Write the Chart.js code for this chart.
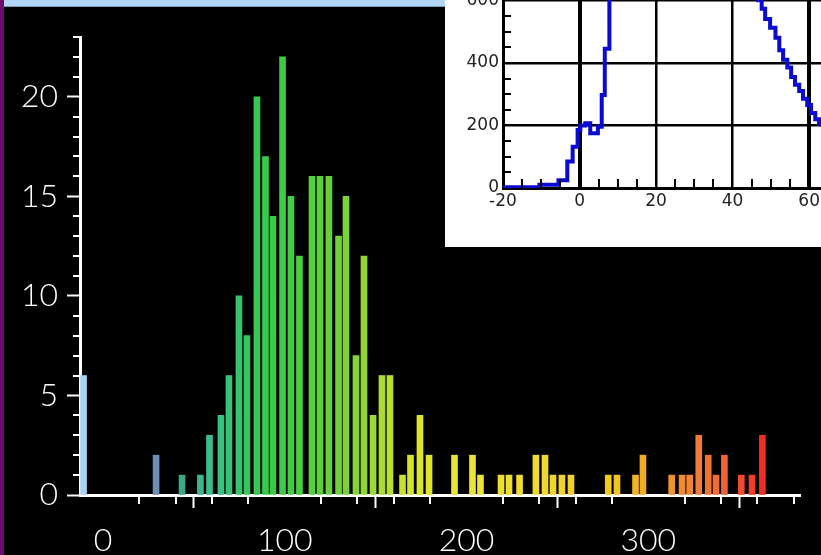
<!DOCTYPE html>
<html>
<head>
<meta charset="utf-8">
<script src="https://cdn.jsdelivr.net/npm/chart.js@4"></script>
<style>
  html, body { margin: 0; padding: 0; background: #000; }
  body { width: 821px; height: 555px; position: relative; overflow: hidden; }
  #main { position: absolute; left: 0; top: 0; }
  #topStrip { position: absolute; left: 4px; top: 0; width: 817px; height: 6px; background: #b2d6f6; border-bottom: 1px solid #7c98b4; }
  #leftStrip { position: absolute; left: 0; top: 0; width: 4px; height: 555px; background: #6c0c6c; }
  #insetBox { position: absolute; left: 445px; top: 0; width: 376px; height: 247px; background: #fff; overflow: hidden; }
  #inset { position: absolute; left: 0; top: -31px; }
</style>
</head>
<body>
<canvas id="main" width="821" height="555"></canvas>
<div id="topStrip"></div>
<div id="leftStrip"></div>
<div id="insetBox"><canvas id="inset" width="376" height="278"></canvas></div>
<script>
// histogram: bin centre and count
const binCenters = [-10.7, 29.2, 43.5, 53.6, 58.6, 64.9, 69.3, 74.8, 79.2, 84.7,
  89.4, 93.5, 98.8, 103.4, 108.1, 115.0, 119.4, 124.3, 129.6, 133.7,
  139.2, 143.6, 148.6, 153.5, 157.9, 164.8, 169.2, 174.4, 179.4, 193.4,
  203.3, 207.7, 219.0, 223.4, 229.2, 238.2, 243.2, 247.6, 252.5, 257.5,
  278.0, 282.8, 293.0, 297.1, 312.9, 318.6, 322.8, 327.8, 333.0, 337.3,
  341.9, 351.2, 357.1, 362.8];
const binCounts = [6, 2, 1, 1, 3, 4, 6, 10, 8, 20,
  17, 14, 22, 15, 12, 16, 16, 16, 13, 15,
  7, 12, 4, 6, 6, 1, 2, 4, 2, 2,
  2, 1, 1, 1, 1, 2, 2, 1, 1, 1,
  1, 1, 1, 2, 1, 1, 1, 3, 2, 1,
  2, 1, 1, 3];
const mainXTicks = [0, 100, 200, 300];
const mainYTicks = [0, 5, 10, 15, 20];

// inset: stepped curve (each value holds until the next x)
const insetX = [-20, -10.5, -5.5, -3.2, -1.8, -0.5, 0.2, 1.5, 2.8, 4.8,
  5.8, 6.6, 7.8, 20, 35, 46.7, 47.6, 48.5, 49.8, 51.2,
  52.2, 53.2, 54.3, 55.3, 56.3, 57.4, 58.4, 59.5, 60.5, 61.6,
  62.6, 63.5];
const insetY = [2, 10, 25, 85, 132, 185, 200, 207, 175, 196,
  297, 445, 760, 900, 850, 600, 573, 540, 512, 480,
  440, 410, 385, 355, 330, 310, 285, 265, 240, 220,
  205, 195];
const insetXTicks = [-20, 0, 20, 40, 60];
const insetYTicks = [0, 200, 400, 600];

// colour ramp along x
const colorStops = [[-11, [168, 212, 244]], [29, [111, 143, 180]], [44, [58, 168, 136]],
  [60, [60, 192, 140]], [75, [52, 196, 108]], [85, [56, 200, 80]], [100, [60, 204, 68]],
  [120, [92, 208, 60]], [140, [136, 212, 56]], [155, [176, 220, 48]], [170, [216, 228, 40]],
  [200, [236, 228, 56]], [240, [240, 216, 48]], [280, [240, 200, 32]], [300, [240, 168, 40]],
  [320, [240, 136, 48]], [340, [240, 104, 56]], [365, [240, 40, 32]]];
function colorAt(x) {
  for (let i = 0; i < colorStops.length - 1; i++) {
    const [x0, c0] = colorStops[i], [x1, c1] = colorStops[i + 1];
    if (x <= x1) {
      const t = Math.max(0, (x - x0) / (x1 - x0));
      return 'rgb(' + c0.map((c, k) => Math.round(c + (c1[k] - c) * t)).join(',') + ')';
    }
  }
  const c = colorStops[colorStops.length - 1][1];
  return 'rgb(' + c.join(',') + ')';
}

function noPad(s) {
  s.paddingTop = 0; s.paddingBottom = 0; s.paddingLeft = 0; s.paddingRight = 0;
}

const mainMinor = {
  id: 'mainMinor',
  afterDraw(chart) {
    const { ctx, scales: { x, y }, chartArea: a } = chart;
    ctx.save();
    ctx.strokeStyle = '#fff';
    ctx.lineWidth = 2;
    for (let v = 1; v <= 23; v++) {
      if (v % 5 === 0) continue;
      const p = Math.round(y.getPixelForValue(v));
      ctx.beginPath(); ctx.moveTo(a.left - 7, p); ctx.lineTo(a.left, p); ctx.stroke();
    }
    for (let v = 20; v <= 380; v += 20) {
      if (v % 100 === 0) continue;
      const p = Math.round(x.getPixelForValue(v));
      ctx.beginPath(); ctx.moveTo(p, a.bottom); ctx.lineTo(p, a.bottom + 9); ctx.stroke();
    }
    ctx.restore();
  }
};

const insetMinor = {
  id: 'insetMinor',
  afterDatasetsDraw(chart) {
    const { ctx, scales: { x, y }, chartArea: a } = chart;
    ctx.save();
    ctx.strokeStyle = '#000';
    ctx.lineWidth = 2;
    for (let v = 50; v <= 650; v += 50) {
      if (v % 200 === 0) continue;
      const p = Math.round(y.getPixelForValue(v));
      ctx.beginPath(); ctx.moveTo(a.left, p); ctx.lineTo(a.left + 8, p); ctx.stroke();
    }
    for (let v = -15; v <= 60; v += 5) {
      if (v % 20 === 0) continue;
      const p = Math.round(x.getPixelForValue(v));
      ctx.beginPath(); ctx.moveTo(p, a.bottom); ctx.lineTo(p, a.bottom - 9); ctx.stroke();
    }
    ctx.restore();
  }
};

const labelFont = { family: 'Lato', size: 32, weight: 300 };

new Chart(document.getElementById('main'), {
  type: 'bar',
  data: {
    datasets: [{
      data: binCenters.map((x, i) => ({ x: x, y: binCounts[i] })),
      backgroundColor: binCenters.map(colorAt),
      barThickness: 6,
      borderWidth: 0
    }]
  },
  options: {
    responsive: false,
    animation: false,
    devicePixelRatio: 1,
    layout: { padding: { top: 37, right: 21, left: 0, bottom: 0 } },
    plugins: { legend: { display: false }, tooltip: { enabled: false } },
    scales: {
      x: {
        type: 'linear', min: -12.65, max: 383.5, offset: false,
        afterBuildTicks: s => { s.ticks = mainXTicks.map(v => ({ value: v })); },
        afterFit: s => { s.height = 60; },
        grid: { drawOnChartArea: false, tickLength: 13, tickColor: '#fff', tickWidth: 2 },
        border: { color: '#fff', width: 3 },
        ticks: { color: '#fff', font: labelFont, padding: 13, maxRotation: 0 }
      },
      y: {
        min: 0, max: 23,
        afterBuildTicks: s => { s.ticks = mainYTicks.map(v => ({ value: v })); },
        afterFit: s => { s.width = 80; },
        grid: { drawOnChartArea: false, tickLength: 13, tickColor: '#fff', tickWidth: 2 },
        border: { color: '#fff', width: 3 },
        ticks: { color: '#fff', font: labelFont, padding: 9 }
      }
    }
  },
  plugins: [mainMinor]
});

const insetFont = { family: 'DejaVu Sans', size: 17 };

new Chart(document.getElementById('inset'), {
  type: 'line',
  data: {
    datasets: [{
      data: insetX.map((x, i) => ({ x: x, y: insetY[i] })),
      borderColor: '#0a0ad2',
      borderWidth: 4,
      pointRadius: 0,
      stepped: 'before',
      fill: false
    }]
  },
  options: {
    responsive: false,
    animation: false,
    devicePixelRatio: 1,
    layout: { padding: 0 },
    plugins: { legend: { display: false }, tooltip: { enabled: false } },
    scales: {
      x: {
        type: 'linear', min: -20, max: 63.1,
        afterBuildTicks: s => { s.ticks = insetXTicks.map(v => ({ value: v })); },
        afterFit: s => { s.height = 59; noPad(s); },
        grid: {
          color: '#000', drawTicks: false,
          lineWidth: c => (c.tick && (c.tick.value === 0 || c.tick.value === 60)) ? 4 : 2.5
        },
        border: { color: '#000', width: 3 },
        ticks: { color: '#222', font: insetFont, padding: 3, maxRotation: 0 }
      },
      y: {
        min: 0, max: 700,
        afterBuildTicks: s => { s.ticks = insetYTicks.map(v => ({ value: v })); },
        afterFit: s => { s.width = 58; noPad(s); },
        grid: { color: '#000', lineWidth: 2.5, drawTicks: false },
        border: { color: '#000', width: 3 },
        ticks: { color: '#222', font: insetFont, padding: 4 }
      }
    }
  },
  plugins: [insetMinor]
});
</script>
</body>
</html>
